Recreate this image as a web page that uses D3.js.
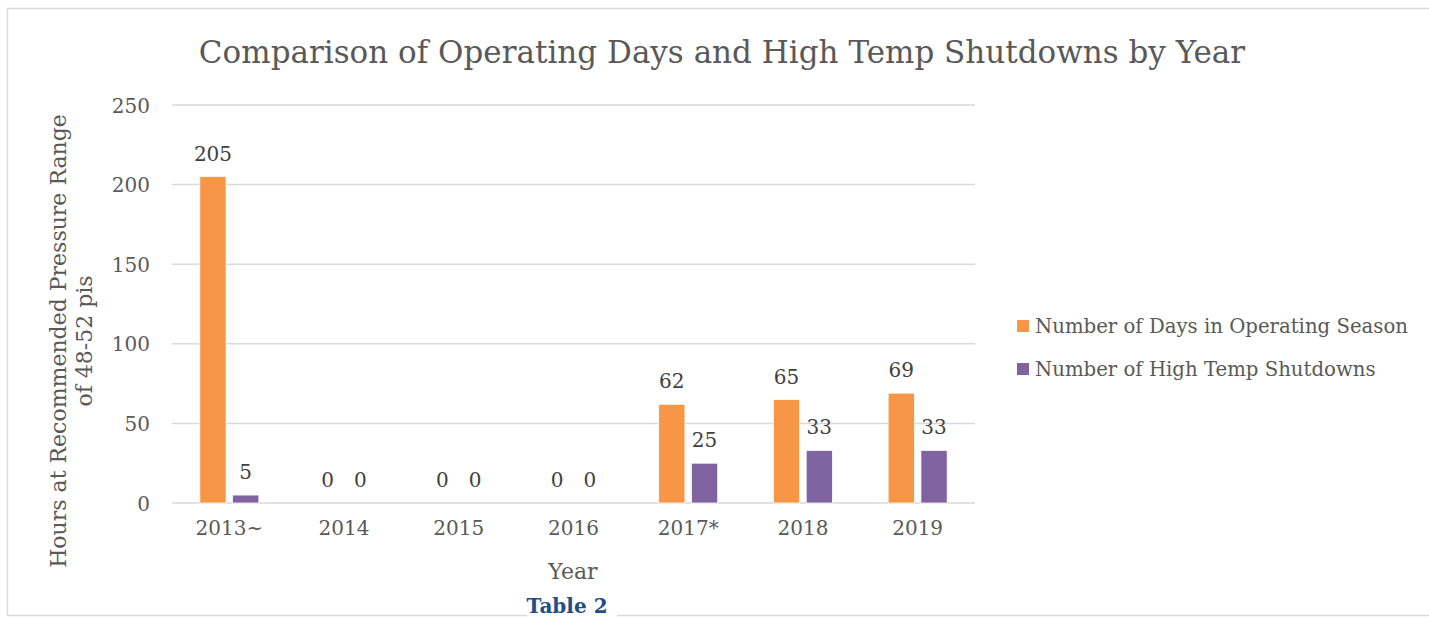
<!DOCTYPE html>
<meta charset='utf-8'>
<style>
body { margin: 0; background: #fff; }
text { font-family: 'DejaVu Serif', 'Liberation Serif', serif; fill: #595959; }
.grid line { stroke: #d9d9d9; stroke-width: 1.5px; }
.tick text { font-size: 20px; }
</style>
<svg width='1429' height='618'></svg>
<script src='https://d3js.org/d3.v7.min.js'></script>
<script>

// chart values
var years = ['2013~', '2014', '2015', '2016', '2017*', '2018', '2019'];
var operatingDays = [205, 0, 0, 0, 62, 65, 69];
var highTempShutdowns = [5, 0, 0, 0, 25, 33, 33];
var seriesNames = ['Number of Days in Operating Season', 'Number of High Temp Shutdowns'];
var seriesColors = ['#f79646', '#8064a2'];
var yTicks = [0, 50, 100, 150, 200, 250];

var svg = d3.select('svg');

// outer chart border
svg.append('rect')
    .attr('x', 7.5).attr('y', 8.5)
    .attr('width', 1440).attr('height', 607)
    .attr('fill', '#fff')
    .attr('stroke', '#d9d9d9')
    .attr('stroke-width', 1.5);

var x0 = d3.scaleBand().domain(years).range([172, 975]);
var x1 = d3.scaleBand().domain([0, 1]).range([0, 59]).paddingInner(0.2);
var y = d3.scaleLinear().domain([0, 250]).range([503, 105]);

// gridlines
svg.append('g')
    .attr('class', 'grid')
  .selectAll('line')
  .data(yTicks)
  .enter().append('line')
    .attr('x1', 172).attr('x2', 975)
    .attr('y1', d => y(d)).attr('y2', d => y(d));

// y axis labels
var yAxis = svg.append('g')
    .attr('transform', 'translate(150,0)')
    .call(d3.axisLeft(y).tickValues(yTicks).tickSize(0).tickPadding(0));
yAxis.select('.domain').remove();
yAxis.selectAll('text').attr('fill', '#595959').attr('dy', '0.35em');

// x axis labels
var xAxis = svg.append('g')
    .attr('transform', 'translate(0,521)')
    .call(d3.axisBottom(x0).tickSize(0).tickPadding(0));
xAxis.select('.domain').remove();
xAxis.selectAll('text').attr('fill', '#595959').attr('dy', '0.71em');

var rows = years.map((yr, i) => ({ year: yr, values: [operatingDays[i], highTempShutdowns[i]] }));

var groups = svg.selectAll('.year')
  .data(rows)
  .enter().append('g')
    .attr('class', 'year')
    .attr('transform', d => 'translate(' + (x0(d.year) + x0.bandwidth() / 2 - 29.5) + ',0)');

groups.selectAll('rect')
  .data(d => d.values)
  .enter().append('rect')
    .attr('x', (d, i) => x1(i))
    .attr('y', d => y(d))
    .attr('width', x1.bandwidth())
    .attr('height', d => y(0) - y(d))
    .attr('fill', (d, i) => seriesColors[i])
    .attr('stroke', '#fff')
    .attr('stroke-width', 0.75);

// data labels
groups.selectAll('.lbl')
  .data(d => d.values)
  .enter().append('text')
    .attr('class', 'lbl')
    .attr('x', (d, i) => x1(i) + x1.bandwidth() / 2)
    .attr('y', d => y(d) - 16)
    .attr('text-anchor', 'middle')
    .style('font-size', '20px')
    .style('fill', '#404040')
    .text(d => d);

// title
svg.append('text')
    .attr('x', 722).attr('y', 63)
    .attr('text-anchor', 'middle')
    .style('font-size', '31px')
    .text('Comparison of Operating Days and High Temp Shutdowns by Year');

// axis titles
var yTitle = svg.append('text')
    .attr('transform', 'translate(66,341) rotate(-90)')
    .attr('text-anchor', 'middle')
    .style('font-size', '22px');
yTitle.append('tspan').attr('x', 0).attr('y', 0).text('Hours at Recommended Pressure Range');
yTitle.append('tspan').attr('x', 0).attr('y', 26).text('of 48-52 pis');

svg.append('text')
    .attr('x', 573).attr('y', 579)
    .attr('text-anchor', 'middle')
    .style('font-size', '22px')
    .text('Year');

// legend
var legend = svg.selectAll('.legend')
  .data(seriesNames)
  .enter().append('g')
    .attr('class', 'legend')
    .attr('transform', (d, i) => 'translate(1017,' + (326 + i * 43) + ')');

legend.append('rect')
    .attr('x', 0).attr('y', -6)
    .attr('width', 12).attr('height', 12)
    .attr('fill', (d, i) => seriesColors[i]);

legend.append('text')
    .attr('x', 18).attr('dy', '0.35em')
    .style('font-size', '19.7px')
    .text(d => d);

// caption sitting on the bottom border
svg.append('rect')
    .attr('x', 527).attr('y', 590)
    .attr('width', 90).attr('height', 28)
    .attr('fill', '#fff');

svg.append('text')
    .attr('x', 567).attr('y', 613)
    .attr('text-anchor', 'middle')
    .style('font-size', '20px')
    .style('font-weight', 'bold')
    .style('fill', '#1f4e85')
    .text('Table 2');

</script>
